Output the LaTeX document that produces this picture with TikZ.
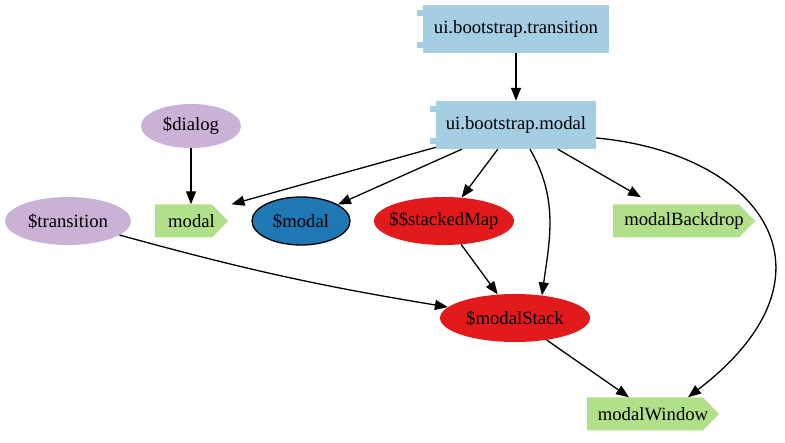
\documentclass[tikz,border=0pt]{standalone}
\usepackage{fontspec}
\setmainfont{Liberation Serif}
\usetikzlibrary{shapes.geometric,arrows.meta}

\definecolor{azulclaro}{HTML}{A6CEE3}
\definecolor{verde}{HTML}{B2DF8A}
\definecolor{lila}{HTML}{CAB2D6}
\definecolor{azul}{HTML}{1F78B4}
\definecolor{rojo}{HTML}{E31A1C}

\tikzset{
  comp/.style={rectangle, fill=azulclaro, minimum height=48pt, inner sep=0pt},
  cds/.style={rectangle, minimum height=33pt, inner sep=0pt,
    path picture={\fill[verde] (path picture bounding box.south west)
      -- (path picture bounding box.north west)
      -- ([xshift=-16pt]path picture bounding box.north east)
      -- (path picture bounding box.east)
      -- ([xshift=-16pt]path picture bounding box.south east) -- cycle;}},
  elip/.style={ellipse, minimum height=48pt, inner sep=0pt},
  flecha/.style={-{Triangle[length=13pt,width=10pt]}, line width=1.3pt}
}

\begin{document}
\begin{tikzpicture}[x=1pt,y=1pt,font=\fontsize{18.7}{22}\selectfont]
  \useasboundingbox (0,0) rectangle (785,443);

  % modulos
  \node[comp, minimum width=186pt] (tr) at (516,414) {ui.bootstrap.transition};
  \node[comp, minimum width=160pt] (mod) at (516,318) {ui.bootstrap.modal};
  \foreach \n in {tr,mod} {
    \fill[azulclaro] ([xshift=-6pt,yshift=-5pt]\n.north west) rectangle ++(12pt,-6pt);
    \fill[azulclaro] ([xshift=-6pt,yshift=5pt]\n.south west) rectangle ++(12pt,6pt);
  }

  % servicios
  \node[elip, fill=lila, minimum width=100pt, minimum height=44pt] (dlg) at (191,317) {\$dialog};
  \node[elip, fill=lila, minimum width=126pt] (trn) at (68,222) {\$transition};
  \node[elip, fill=azul, draw=black, line width=1.3pt, minimum width=98pt] (smod) at (301,222) {\$modal};
  \node[elip, fill=rojo, minimum width=140pt, inner xsep=-8pt] (smap) at (444,222) {\$\$stackedMap};
  \node[elip, fill=rojo, minimum width=150pt] (stk) at (515,125) {\$modalStack};

  % directivas
  \node[cds, minimum width=73pt] (modal) at (191.5,222) {modal};
  \node[cds, minimum width=142pt] (bd) at (684,222) {modalBackdrop};
  \node[cds, minimum width=132pt] (win) at (653,29) {modalWindow};

  % dependencias
  \draw[flecha] (tr) -- (mod);
  \draw[flecha] (dlg) -- (dlg |- modal.north);
  \draw[flecha] (mod) -- ([xshift=40pt]modal.north);
  \draw[flecha] (mod) -- (smod);
  \draw[flecha] (mod) -- (smap);
  \draw[flecha] ([xshift=14pt]mod.south) to[out=-60, in=82] (stk.40);
  \draw[flecha] (mod) -- ([xshift=-43pt,yshift=7pt]bd.north);
  \draw[flecha] ([yshift=-13pt]mod.east) .. controls (760,290) and (850,170) .. ([xshift=35pt]win.north);
  \draw[flecha] (trn) to[bend right=3] (stk);
  \draw[flecha] (smap) -- (stk);
  \draw[flecha] (stk) -- (win);
\end{tikzpicture}
\end{document}
